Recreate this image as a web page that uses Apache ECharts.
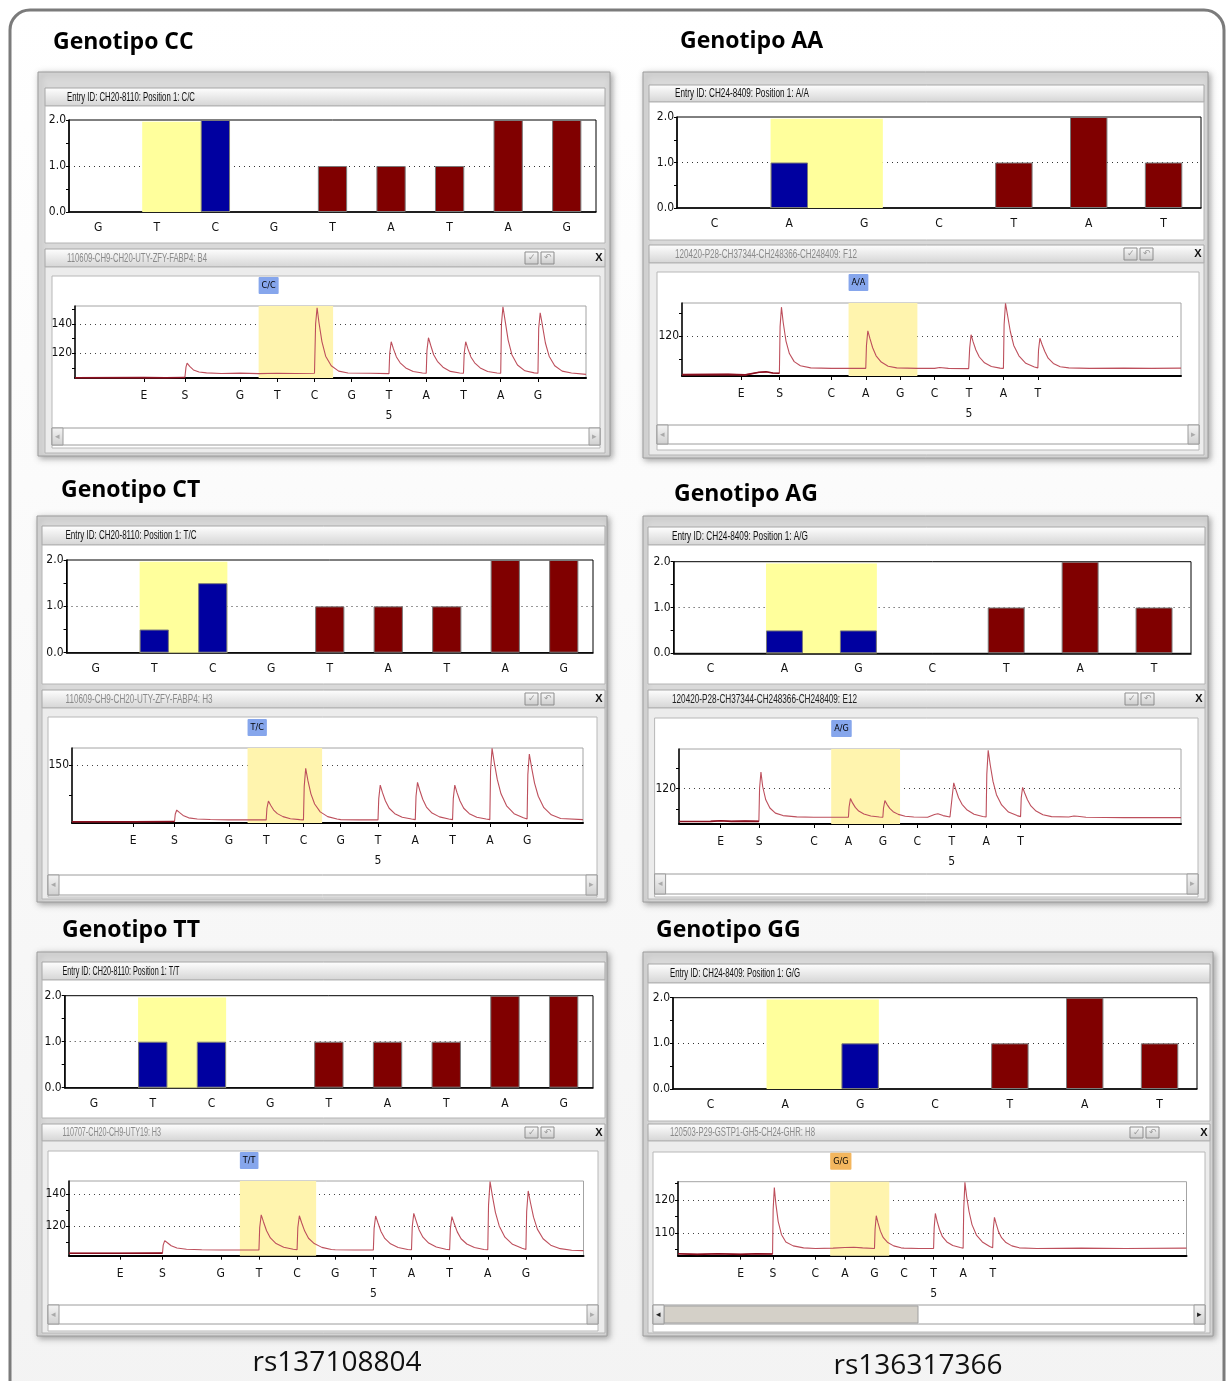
<!DOCTYPE html>
<html><head><meta charset="utf-8">
<script src="https://cdn.jsdelivr.net/npm/echarts@6/dist/echarts.min.js"></script>
<style>html,body{margin:0;padding:0;background:#fff}#c{width:1227px;height:1381px}</style>
</head><body><div id="c"></div>
<script>
// ================= DATA =================
const panelTitles = ['Genotipo CC','Genotipo AA','Genotipo CT','Genotipo AG','Genotipo TT','Genotipo GG'];
const genotypes   = ['C/C','A/A','T/C','A/G','T/T','G/G'];
const entryTitles = ['Entry ID: CH20-8110: Position 1: C/C','Entry ID: CH24-8409: Position 1: A/A',
                     'Entry ID: CH20-8110: Position 1: T/C','Entry ID: CH24-8409: Position 1: A/G',
                     'Entry ID: CH20-8110: Position 1: T/T','Entry ID: CH24-8409: Position 1: G/G'];
const runTitles   = ['110609-CH9-CH20-UTY-ZFY-FABP4: B4','120420-P28-CH37344-CH248366-CH248409: F12',
                     '110609-CH9-CH20-UTY-ZFY-FABP4: H3','120420-P28-CH37344-CH248366-CH248409: E12',
                     '110707-CH20-CH9-UTY19: H3','120503-P29-GSTP1-GH5-CH24-GHR: H8'];
const snpNames = ['rs137108804','rs136317366'];

// histogram (expected pattern) categories and values
const cats137 = ['G','T','C','G','T','A','T','A','G'];
const cats136 = ['C','A','G','C','T','A','T'];
const barCC = [0,0,2,0,1,1,1,2,2];
const barAA = [0,1,0,0,1,2,1];
const barCT = [0,0.5,1.5,0,1,1,1,2,2];
const barAG = [0,0.5,0.5,0,1,2,1];
const barTT = [0,1,1,0,1,1,1,2,2];
const barGG = [0,0,1,0,1,2,1];
const snpIdx = [1,2];
const barTicks = [0,0.5,1,1.5,2];
const barLabels = [0,1,2];

// pyrogram dispensation labels and their positions
const disp137 = ['E','S','G','T','C','G','T','A','T','A','G'];
const disp136 = ['E','S','C','A','G','C','T','A','T'];
const dispPosCC = [0.42,1.52,3,4,5,6,7,8,9,10,11];
const dispPosCT = [0.43,1.54,3,4,5,6,7,8,9,10,11];
const dispPosTT = [0.36,1.47,3,4,5,6,7,8,9,10,11];
const dispPosAA = [0.38,1.50,3,4,5,6,7,8,9];
const dispPosAG = [0.29,1.41,3,4,5,6,7,8,9];
const dispPosGG = [0.47,1.56,3,4,5,6,7,8,9];
const snpRange = [3.5,5.5];

// pyrogram y ticks / labels
const yTicksCC = [110,120,130,140,150], yLabelsCC = [120,140];
const yTicksAA = [110,120,130],         yLabelsAA = [120];
const yTicksCT = [125,150],             yLabelsCT = [150];
const yTicksAG = [110,120,130],         yLabelsAG = [120];
const yTicksTT = [110,120,130,140],     yLabelsTT = [120,140];
const yTicksGG = [105,110,115,120,125], yLabelsGG = [110,120];

// pyrogram traces [x, signal]
const traceCC = [[-1.43,103.3],[0.42,103.4],[1.0,103.3],[1.52,103.4],[1.55,110.5],[1.58,113.2],[1.65,111],[1.75,108.6],[1.9,107.2],[2.1,106.6],[2.5,106.2],[3.0,106.4],[3.5,106.1],[4.0,106.3],[4.5,106.2],[5.0,106.3],
 [5.03,140],[5.07,151.1],[5.12,141],[5.2,128],[5.3,118],[5.45,111.5],[5.65,107.8],[5.9,106.5],[6.5,106.3],[7.0,106.1],
 [7.02,120],[7.06,127.9],[7.12,123],[7.2,117.5],[7.3,113.5],[7.45,110],[7.65,107.5],[7.9,106.5],[8.0,106.3],
 [8.02,122],[8.06,130.6],[8.12,125.5],[8.2,119],[8.3,114.5],[8.45,110.5],[8.65,107.6],[8.9,106.5],[9.0,106.3],
 [9.02,120],[9.06,127.9],[9.12,123],[9.2,117.5],[9.3,113.5],[9.45,110],[9.65,107.5],[9.9,106.5],[10.0,106.3],
 [10.02,140],[10.06,151.8],[10.12,142],[10.2,129],[10.3,119],[10.45,112],[10.65,108],[10.9,106.6],[11.0,106.3],
 [11.02,137],[11.06,147.7],[11.12,139],[11.2,127],[11.3,118],[11.45,111.5],[11.65,107.8],[11.9,106.5],[12.29,105.6]];
const traceAA = [[-1.34,103.4],[0,103.5],[0.5,103.3],[0.9,104.4],[1.1,104.6],[1.3,104.1],[1.49,104],[1.51,124],[1.55,132.5],[1.6,126],[1.68,118],[1.78,112.5],[1.92,109],[2.1,107.2],[2.4,106.3],[3.0,106.1],[3.5,106.1],[4.0,106.1],
 [4.02,116],[4.06,122.3],[4.12,119],[4.2,115],[4.3,111.5],[4.45,108.8],[4.65,107],[4.9,106.3],[5.5,106.1],[6.0,106.1],
 [6.05,106.8],[6.15,106.5],[6.4,106.1],[6.99,106],
 [7.02,115],[7.06,120.6],[7.12,117.5],[7.2,114],[7.3,111],[7.45,108.5],[7.65,106.9],[7.9,106.2],[8.0,106.1],
 [8.02,125],[8.06,134.2],[8.12,129],[8.2,122],[8.3,116],[8.45,111.5],[8.65,108.3],[8.9,106.7],[9.0,106.3],
 [9.02,114],[9.06,119.1],[9.12,116.5],[9.2,113.5],[9.3,110.5],[9.45,108.2],[9.65,106.8],[9.9,106.3],[10.5,106.1],[11.5,106.2],[12.3,106.1],[13.16,106.2]];
const traceCT = [[-1.21,102.8],[0.43,102.8],[1.54,102.9],[1.56,109],[1.6,112.5],[1.67,110.5],[1.77,108],[1.92,106],[2.15,105],[2.5,104.6],[3.0,104.3],[3.5,104.4],[4.0,104.3],
 [4.02,114],[4.06,120],[4.12,116.5],[4.2,112.5],[4.3,109.5],[4.45,107],[4.65,105.3],[4.9,104.5],[5.0,104.3],
 [5.02,132],[5.06,147.2],[5.12,137],[5.2,126],[5.3,117.5],[5.45,111],[5.65,107],[5.9,105],[6.0,104.5],[6.5,104.3],[7.0,104.3],
 [7.02,122],[7.06,133.3],[7.12,127],[7.2,120],[7.3,114],[7.45,109.5],[7.65,106.5],[7.9,105],[8.0,104.5],
 [8.02,124],[8.06,135.6],[8.12,129],[8.2,121.5],[8.3,115],[8.45,110],[8.65,106.8],[8.9,105],[9.0,104.5],
 [9.02,122],[9.06,133.3],[9.12,127],[9.2,120],[9.3,114],[9.45,109.5],[9.65,106.5],[9.9,105],[10.0,104.5],
 [10.02,145],[10.06,163.9],[10.12,152],[10.2,138],[10.3,126],[10.45,116],[10.65,109.5],[10.9,106],[11.0,105],
 [11.02,142],[11.06,159.2],[11.12,148],[11.2,135],[11.3,124],[11.45,114.5],[11.65,108.5],[11.9,105.5],[12.5,104.5]];
const traceAG = [[-0.92,103.9],[0,104],[0.29,104.3],[0.6,104],[1.0,104.1],[1.4,104],[1.42,120],[1.46,128.1],[1.51,121],[1.6,114.5],[1.72,110.5],[1.88,108],[2.1,106.8],[2.5,106.2],[3.0,106],[4.0,106],
 [4.02,111],[4.06,115.1],[4.12,113],[4.2,110.8],[4.3,109],[4.45,107.6],[4.65,106.6],[4.9,106.1],[5.0,106],
 [5.02,110.5],[5.06,114.1],[5.12,112.3],[5.2,110.3],[5.3,108.7],[5.45,107.4],[5.65,106.5],[5.9,106.1],[6.3,106],[6.5,107.3],[6.6,107.7],[6.75,106.8],[6.95,106.1],[7.0,106],
 [7.02,117],[7.06,122.8],[7.12,119.5],[7.2,115.5],[7.3,112.3],[7.45,109.5],[7.65,107.5],[7.9,106.4],[8.0,106.1],
 [8.02,127],[8.06,138.7],[8.12,131.5],[8.2,123.5],[8.3,117],[8.45,112],[8.65,108.5],[8.9,106.8],[9.0,106.3],
 [9.02,115.5],[9.06,120.6],[9.12,117.8],[9.2,114.5],[9.3,111.5],[9.45,109],[9.65,107.2],[9.9,106.3],[10.4,106.1],[10.55,106.6],[10.65,106.5],[10.9,106],[12,105.8],[13.66,105.8]];
const traceTT = [[-0.98,102.9],[0.36,102.9],[1.47,103],[1.49,108],[1.53,110.8],[1.6,109.5],[1.7,107.6],[1.85,106.2],[2.1,105.4],[2.5,105.1],[3.0,105],[4.0,105],
 [4.02,119],[4.06,126.9],[4.12,122.5],[4.2,117],[4.3,112.5],[4.45,109],[4.65,106.7],[4.9,105.4],[5.0,105.1],
 [5.02,119],[5.06,126.4],[5.12,122],[5.2,116.8],[5.3,112.3],[5.45,109],[5.65,106.6],[5.9,105.3],[6.0,105.1],[6.5,105],[7.0,105],
 [7.02,118.5],[7.06,126.2],[7.12,122],[7.2,116.5],[7.3,112.2],[7.45,108.8],[7.65,106.5],[7.9,105.3],[8.0,105.1],
 [8.02,119.5],[8.06,127.9],[8.12,123.3],[8.2,117.5],[8.3,113],[8.45,109.3],[8.65,106.8],[8.9,105.4],[9.0,105.1],
 [9.02,118.5],[9.06,125.8],[9.12,121.5],[9.2,116.3],[9.3,112],[9.45,108.7],[9.65,106.5],[9.9,105.3],[10.0,105.1],
 [10.02,133],[10.06,147.7],[10.12,139],[10.2,128.5],[10.3,120],[10.45,113],[10.65,108.5],[10.9,106],[11.0,105.3],
 [11.02,129],[11.06,141.9],[11.12,134.5],[11.2,125.5],[11.3,118],[11.45,112],[11.65,108],[11.9,105.8],[12.2,104.8],[12.51,104.6]];
const traceGG = [[-1.65,103.6],[-1,103.4],[-0.3,103.6],[0.47,103.4],[1.0,103.6],[1.55,103.5],[1.57,117],[1.61,123.8],[1.66,119],[1.74,113.5],[1.85,109.5],[2.0,107.2],[2.25,106],[2.6,105.4],[3.0,105.2],[3.6,105.3],[4.0,105.5],[4.3,105.6],[4.6,105.4],[5.0,105.2],
 [5.02,111],[5.06,115.2],[5.12,113],[5.2,110.5],[5.3,108.5],[5.45,107],[5.65,106],[5.9,105.4],[6.0,105.3],[6.5,105.2],[7.0,105.2],
 [7.02,111.5],[7.06,115.9],[7.12,113.5],[7.2,111],[7.3,108.8],[7.45,107.2],[7.65,106.1],[7.9,105.5],[8.0,105.3],
 [8.02,117],[8.06,125.4],[8.12,121],[8.2,116.5],[8.3,112.5],[8.45,109.3],[8.65,107.2],[8.9,105.8],[9.0,105.4],
 [9.02,111],[9.06,114.7],[9.12,112.7],[9.2,110.3],[9.3,108.5],[9.45,107],[9.65,106],[9.9,105.4],[10.5,105.2],[12,105.3],[13.5,105.2],[15.56,105.3]];

// ================= LAYOUT / STYLE =================
const NARROW = "'Liberation Sans Narrow','DejaVu Sans Condensed','Liberation Sans',sans-serif";
const WINFONT = "'Liberation Sans',Arial,sans-serif";
const BLUE='#0000a0', RED='#800000', BARYEL='#ffff9c', PYRYEL='#fff4ae', TRACE='#bd4f5c', TRACE_PRE='#8c1020';
const AXFS = 12;

const panels = [
 {cats:cats137, bar:barCC, disp:disp137, pos:dispPosCC, trace:traceCC, yT:yTicksCC, yL:yLabelsCC, badge:'#86a6ec', runColor:'#8a8a8a',
  L:{title:[53,42], frame:[38,72,572,384], barTitle:[45,88,560,18], barBody:[45,106,560,137], barGrid:[69,120,527,92],
     pyroTitle:[45,249,560,18], pyroBody:[45,267,560,186], pyroInner:[52,276,548,172], pyroGrid:[75,306,511,72],
     scroll:[52,428,548,17], xr:[-1.43,12.29], yr:[103.1,152.3], tx:67, entryW:128, runW:140}},
 {cats:cats136, bar:barAA, disp:disp136, pos:dispPosAA, trace:traceAA, yT:yTicksAA, yL:yLabelsAA, badge:'#86a6ec', runColor:'#8a8a8a',
  L:{title:[680,41], frame:[643,72,565,386], barTitle:[649,85,555,17], barBody:[649,102,555,138], barGrid:[677,117,524,91],
     pyroTitle:[649,245,555,18], pyroBody:[649,263,555,192], pyroInner:[657,272,542,178], pyroGrid:[682,303,499,73],
     scroll:[657,425,542,19], xr:[-1.34,13.16], yr:[102.8,134.3], tx:675, entryW:134, runW:182}},
 {cats:cats137, bar:barCT, disp:disp137, pos:dispPosCT, trace:traceCT, yT:yTicksCT, yL:yLabelsCT, badge:'#86a6ec', runColor:'#8a8a8a',
  L:{title:[61,490], frame:[37,516,570,386], barTitle:[42,526,563,19], barBody:[42,545,563,139], barGrid:[66.5,560,526.5,92.7],
     pyroTitle:[42,690,563,18], pyroBody:[42,708,563,191], pyroInner:[48,717,549,180], pyroGrid:[72,748,511,75],
     scroll:[48,875,549,20], xr:[-1.21,12.5], yr:[101.7,164.2], tx:65.5, entryW:131, runW:147}},
 {cats:cats136, bar:barAG, disp:disp136, pos:dispPosAG, trace:traceAG, yT:yTicksAG, yL:yLabelsAG, badge:'#86a6ec', runColor:'#222',
  L:{title:[674,494], frame:[643,516,565,386], barTitle:[648,527,557,18], barBody:[648,545,557,139], barGrid:[673.6,561.7,517.4,91.6],
     pyroTitle:[648,690,557,18], pyroBody:[648,708,557,191], pyroInner:[654.6,718,543.4,179], pyroGrid:[679,749,502,75],
     scroll:[654.6,874,543.4,20], xr:[-0.92,13.66], yr:[102.7,139.3], tx:672, entryW:136, runW:185}},
 {cats:cats137, bar:barTT, disp:disp137, pos:dispPosTT, trace:traceTT, yT:yTicksTT, yL:yLabelsTT, badge:'#86a6ec', runColor:'#8a8a8a',
  L:{title:[62,930], frame:[37,952,570,384], barTitle:[42,962,563,18], barBody:[42,980,563,138], barGrid:[64.7,995.7,528.3,92],
     pyroTitle:[42,1124,563,17], pyroBody:[42,1141,563,192], pyroInner:[48,1151,550,180], pyroGrid:[69,1181,514.5,74.7],
     scroll:[48,1305,550,19], xr:[-0.98,12.51], yr:[101.4,148.1], tx:62.5, entryW:117, runW:98.5}},
 {cats:cats136, bar:barGG, disp:disp136, pos:dispPosGG, trace:traceGG, yT:yTicksGG, yL:yLabelsGG, badge:'#f3b65e', runColor:'#8a8a8a',
  L:{title:[656,930], frame:[643,952,570,384], barTitle:[648,964,562,19], barBody:[648,983,562,138], barGrid:[673,997.7,524,91.3],
     pyroTitle:[648,1124,562,17], pyroBody:[648,1141,562,192], pyroInner:[653,1152,552,180], pyroGrid:[678,1181.7,508.5,74],
     scroll:[653,1305,552,19], xr:[-1.65,15.56], yr:[103,125.6], tx:670, entryW:130, runW:145, thumbEnd:918}}
];
const snpLabelPos = [[337,1363],[918,1366]];

// ================= BUILD =================
const chart = echarts.init(document.getElementById('c'), null, {renderer:'canvas', width:1227, height:1381});
const grids=[], xAxes=[], yAxes=[], series=[], gfx=[];
const grad = (c1,c2)=>({type:'linear',x:0,y:0,x2:0,y2:1,colorStops:[{offset:0,color:c1},{offset:1,color:c2}]});
const mctx = document.createElement('canvas').getContext('2d');
function rect(r, style, z){ gfx.push({type:'rect', silent:true, z:z, shape:{x:r[0],y:r[1],width:r[2],height:r[3]}, style:style}); }
function fitText(str, x, yc, targetW, size, color){
  const font = size+'px '+WINFONT; mctx.font = font;
  const w = mctx.measureText(str).width;
  gfx.push({type:'text', silent:true, z:40, x:x, y:yc, scaleX:targetW/w, style:{text:str, font:font, fill:color, verticalAlign:'middle'}});
}
function txt(str, x, y, font, color, align){
  gfx.push({type:'text', silent:true, z:40, x:x, y:y, style:{text:str, font:font, fill:color, verticalAlign:'middle', align:align||'left'}});
}

// page border
gfx.push({type:'rect', silent:true, z:-30, shape:{x:10,y:10,width:1214,height:1420,r:20},
  style:{fill:grad('#ffffff','#f3f3f3'), stroke:'#7b7b7b', lineWidth:3}});

panels.forEach((p,i)=>{
  const L = p.L;
  // ---- window chrome ----
  rect(L.frame, {fill:'#d9d9d9', stroke:'#9c9c9c', lineWidth:1, shadowBlur:6, shadowOffsetX:2, shadowOffsetY:2, shadowColor:'rgba(0,0,0,0.35)'}, -20);
  rect(L.barTitle, {fill:grad('#ffffff','#d4d4d4'), stroke:'#a6a6a6', lineWidth:1}, -15);
  rect(L.barBody, {fill:'#ffffff', stroke:'#b4b4b4', lineWidth:1}, -15);
  rect(L.pyroTitle, {fill:grad('#ffffff','#d4d4d4'), stroke:'#a6a6a6', lineWidth:1}, -15);
  rect(L.pyroBody, {fill:'#ececec', stroke:'#b4b4b4', lineWidth:1}, -15);
  rect(L.pyroInner, {fill:'#ffffff', stroke:'#b8b8b8', lineWidth:1}, -14);
  const pr = L.pyroTitle[0]+L.pyroTitle[2], py = L.pyroTitle[1], ph = L.pyroTitle[3];
  rect([pr-80, py+3, 13, ph-6], {fill:grad('#fdfdfd','#c9c9c9'), stroke:'#8d8d8d', lineWidth:1}, -13);
  rect([pr-64, py+3, 13, ph-6], {fill:grad('#fdfdfd','#c9c9c9'), stroke:'#8d8d8d', lineWidth:1}, -13);
  txt('\u2713', pr-73.5, py+ph/2, '9px '+WINFONT, '#9a9a9a', 'center');
  txt('\u21b6', pr-57.5, py+ph/2, '9px '+WINFONT, '#9a9a9a', 'center');
  txt('X', pr-6, py+ph/2, 'bold 11px '+WINFONT, '#111', 'center');
  // scrollbar
  const s = L.scroll;
  rect(s, {fill:'#ffffff', stroke:'#9c9c9c', lineWidth:1}, -13);
  if (L.thumbEnd) rect([s[0]+11, s[1]+1, L.thumbEnd-s[0]-11, s[3]-2], {fill:'#d4d0c8', stroke:'#a0a0a0', lineWidth:1}, -12);
  rect([s[0], s[1], 11, s[3]], {fill:grad('#f4f4f4','#d0d0d0'), stroke:'#9c9c9c', lineWidth:1}, -12);
  rect([s[0]+s[2]-11, s[1], 11, s[3]], {fill:grad('#f4f4f4','#d0d0d0'), stroke:'#9c9c9c', lineWidth:1}, -12);
  txt('\u25c2', s[0]+5.5, s[1]+s[3]/2, '9px '+WINFONT, L.thumbEnd?'#222':'#aaa', 'center');
  txt('\u25b8', s[0]+s[2]-5.5, s[1]+s[3]/2, '9px '+WINFONT, L.thumbEnd?'#222':'#aaa', 'center');
  // texts
  txt(panelTitles[i], L.title[0], L.title[1], "bold 23px 'Open Sans',sans-serif", '#000');
  fitText(entryTitles[i], L.tx, L.barTitle[1]+L.barTitle[3]/2+0.5, L.entryW, 12, '#111');
  fitText(runTitles[i], L.tx, L.pyroTitle[1]+L.pyroTitle[3]/2+0.5, L.runW, 12, p.runColor);

  // ---- bar chart (expected histogram) ----
  const bg = grids.length;
  grids.push({left:L.barGrid[0], top:L.barGrid[1], width:L.barGrid[2], height:L.barGrid[3], show:true, borderColor:'#000', borderWidth:1, backgroundColor:'#fff'});
  const bx = xAxes.length;
  xAxes.push({type:'category', gridIndex:bg, data:p.cats, boundaryGap:true,
    axisLine:{lineStyle:{color:'#000', width:1.5}}, axisTick:{alignWithLabel:true, length:3, lineStyle:{color:'#000'}},
    axisLabel:{interval:0, fontFamily:NARROW, fontSize:AXFS, color:'#111', margin:10}, splitLine:{show:false}});
  const by = yAxes.length;
  yAxes.push({type:'value', gridIndex:bg, min:0, max:2, position:'left',
    axisLine:{show:true, onZero:false, lineStyle:{color:'#000', width:1.5}},
    axisTick:{show:true, length:3, customValues:barTicks, lineStyle:{color:'#000'}},
    axisLabel:{customValues:barLabels, formatter:v=>Number(v).toFixed(1), fontFamily:NARROW, fontSize:AXFS, color:'#111', margin:3},
    splitLine:{show:false}});
  yAxes.push({type:'value', gridIndex:bg, min:0, max:2, position:'left', axisLine:{show:false, onZero:false},
    axisTick:{show:false, customValues:[1]}, axisLabel:{show:false},
    splitLine:{show:true, lineStyle:{color:'#333', type:[1,4], width:1}}});
  series.push({type:'custom', xAxisIndex:bx, yAxisIndex:by, z:2, silent:true, data:[[snpIdx[0], snpIdx[1]]],
    renderItem:(params, api)=>{
      const a = api.coord([api.value(0), 0]);
      const b = api.coord([api.value(1), 1.96]);
      const bw = api.size([1,0])[0];
      return {type:'rect', shape:{x:a[0]-bw*0.25, y:b[1], width:(b[0]-a[0])+bw*0.5, height:a[1]-b[1]}, style:{fill:BARYEL}};
    }});
  series.push({type:'bar', xAxisIndex:bx, yAxisIndex:by, z:3, silent:true, barWidth:'50%',
    itemStyle:{borderColor:'#7a7a7a', borderWidth:1},
    data:p.bar.map((v,k)=>({value:v, itemStyle:{color: snpIdx.includes(k)?BLUE:RED, borderWidth: v>0?1:0}}))});

  // ---- pyrogram ----
  const pg = grids.length;
  grids.push({left:L.pyroGrid[0], top:L.pyroGrid[1], width:L.pyroGrid[2], height:L.pyroGrid[3], show:true, borderColor:'#a4a4a4', borderWidth:1, backgroundColor:'#fff'});
  const px = xAxes.length;
  const pos = p.pos, disp = p.disp;
  xAxes.push({type:'value', gridIndex:pg, min:L.xr[0], max:L.xr[1],
    axisLine:{onZero:false, lineStyle:{color:'#000', width:2}}, axisTick:{customValues:pos, length:4, lineStyle:{color:'#000'}},
    axisLabel:{customValues:pos, fontFamily:NARROW, fontSize:AXFS, color:'#111', lineHeight:20, margin:8,
      formatter:v=>{ let k=-1; pos.forEach((q,j)=>{ if(Math.abs(q-v)<1e-6) k=j; }); if(k<0) return ''; return k===6 ? disp[k]+'\n5' : disp[k]; }},
    splitLine:{show:false}});
  const pyI = yAxes.length;
  yAxes.push({type:'value', gridIndex:pg, min:L.yr[0], max:L.yr[1], position:'left',
    axisLine:{show:true, onZero:false, lineStyle:{color:'#000', width:1.5}},
    axisTick:{show:true, length:3, customValues:p.yT, lineStyle:{color:'#000'}},
    axisLabel:{customValues:p.yL, fontFamily:NARROW, fontSize:AXFS, color:'#111', margin:3}, splitLine:{show:false}});
  yAxes.push({type:'value', gridIndex:pg, min:L.yr[0], max:L.yr[1], position:'left', axisLine:{show:false, onZero:false},
    axisTick:{show:false, customValues:p.yL}, axisLabel:{show:false},
    splitLine:{show:true, lineStyle:{color:'#444', type:[1,4], width:1}}});
  series.push({type:'line', xAxisIndex:px, yAxisIndex:pyI, data:p.trace, symbol:'none', clip:false, silent:true, z:3,
    lineStyle:{color:TRACE, width:1.1},
    markArea:{silent:true, itemStyle:{color:PYRYEL},
      label:{show:true, position:[0,-29], formatter:genotypes[i], backgroundColor:p.badge, color:'#000',
             fontFamily:NARROW, fontSize:9, padding:[4,3], borderRadius:1},
      data:[[{coord:[snpRange[0], L.yr[0]]},{coord:[snpRange[1], L.yr[1]]}]]}});
  // darker baseline segment before the substrate (S) dispensation
  series.push({type:'line', xAxisIndex:px, yAxisIndex:pyI, data:p.trace.filter(d=>d[0]<=pos[1]), symbol:'none', clip:false, silent:true, z:4,
    lineStyle:{color:TRACE_PRE, width:1.6}});
});

snpNames.forEach((n,k)=>txt(n, snpLabelPos[k][0], snpLabelPos[k][1], "28px 'Open Sans',sans-serif", '#111', 'center'));

chart.setOption({animation:false, backgroundColor:'#ffffff', grid:grids, xAxis:xAxes, yAxis:yAxes, series:series, graphic:{elements:gfx}});
</script></body></html>
